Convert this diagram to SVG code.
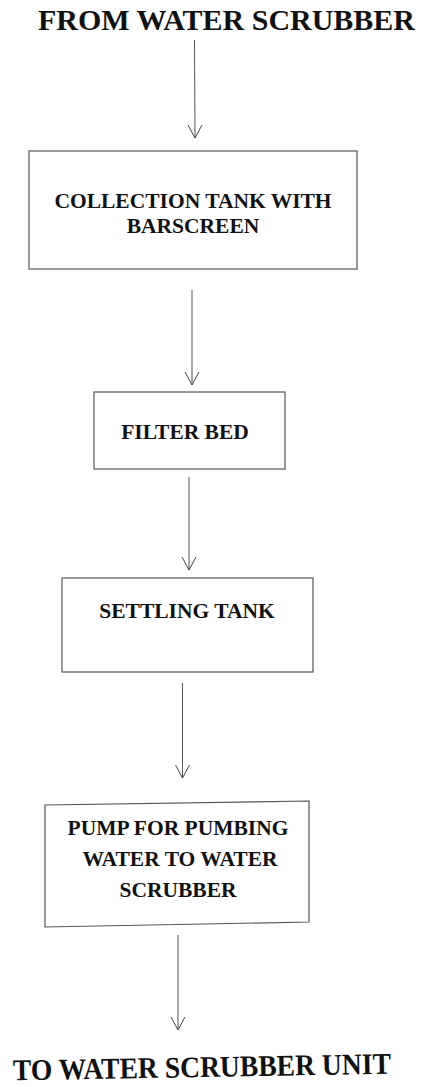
<svg xmlns="http://www.w3.org/2000/svg" width="424" height="1087" viewBox="0 0 424 1087">
<style>
.box{fill:#ffffff;stroke:#555555;stroke-width:1.2}
.lbl{font-family:"Liberation Serif","Times New Roman",serif;font-weight:bold;font-size:21.5px;fill:#111111;text-anchor:middle}
.ttl{font-family:"Liberation Serif","Times New Roman",serif;font-weight:bold;font-size:30px;fill:#111111}
.cn{stroke:#555555;stroke-width:1;fill:none}
.ah{stroke:#444444;stroke-width:1;fill:none}
</style>
<rect width="424" height="1087" fill="#ffffff"/>
<g id="from-water-scrubber">
<text class="ttl" x="38" y="30" textLength="377" lengthAdjust="spacingAndGlyphs">FROM WATER SCRUBBER</text>
</g>
<g id="collection-tank">
<rect class="box" x="29" y="151" width="328" height="118"/>
<text class="lbl" x="193" y="208">COLLECTION TANK WITH</text>
<text class="lbl" x="193" y="233">BARSCREEN</text>
</g>
<g id="filter-bed">
<rect class="box" x="94" y="392" width="191" height="77"/>
<text class="lbl" x="185" y="439">FILTER BED</text>
</g>
<g id="settling-tank">
<rect class="box" x="62" y="578" width="251" height="94"/>
<text class="lbl" x="187" y="618">SETTLING TANK</text>
</g>
<g id="pump">
<polygon class="box" points="45,805 309,801 309,922 45,927"/>
<text class="lbl" x="178" y="835">PUMP FOR PUMBING</text>
<text class="lbl" x="180" y="866">WATER TO WATER</text>
<text class="lbl" x="178" y="897">SCRUBBER</text>
</g>
<g id="to-water-scrubber-unit">
<text class="ttl" x="13" y="1077" textLength="378" lengthAdjust="spacingAndGlyphs" transform="rotate(-1 202 1073)">TO WATER SCRUBBER UNIT</text>
</g>
<g id="connectors">
<line class="cn" x1="194.5" y1="40" x2="195" y2="138"/>
<path class="ah" d="M188,125 L195,138 L202,125"/>
<line class="cn" x1="192" y1="290" x2="192" y2="385"/>
<path class="ah" d="M185,372 L192,385 L199,372"/>
<line class="cn" x1="189" y1="477" x2="189" y2="570"/>
<path class="ah" d="M182,557 L189,570 L196,557"/>
<line class="cn" x1="182.5" y1="683" x2="182.5" y2="778"/>
<path class="ah" d="M175.5,765 L182.5,778 L189.5,765"/>
<line class="cn" x1="178" y1="935" x2="178" y2="1030"/>
<path class="ah" d="M171,1017 L178,1030 L185,1017"/>
</g>
</svg>
